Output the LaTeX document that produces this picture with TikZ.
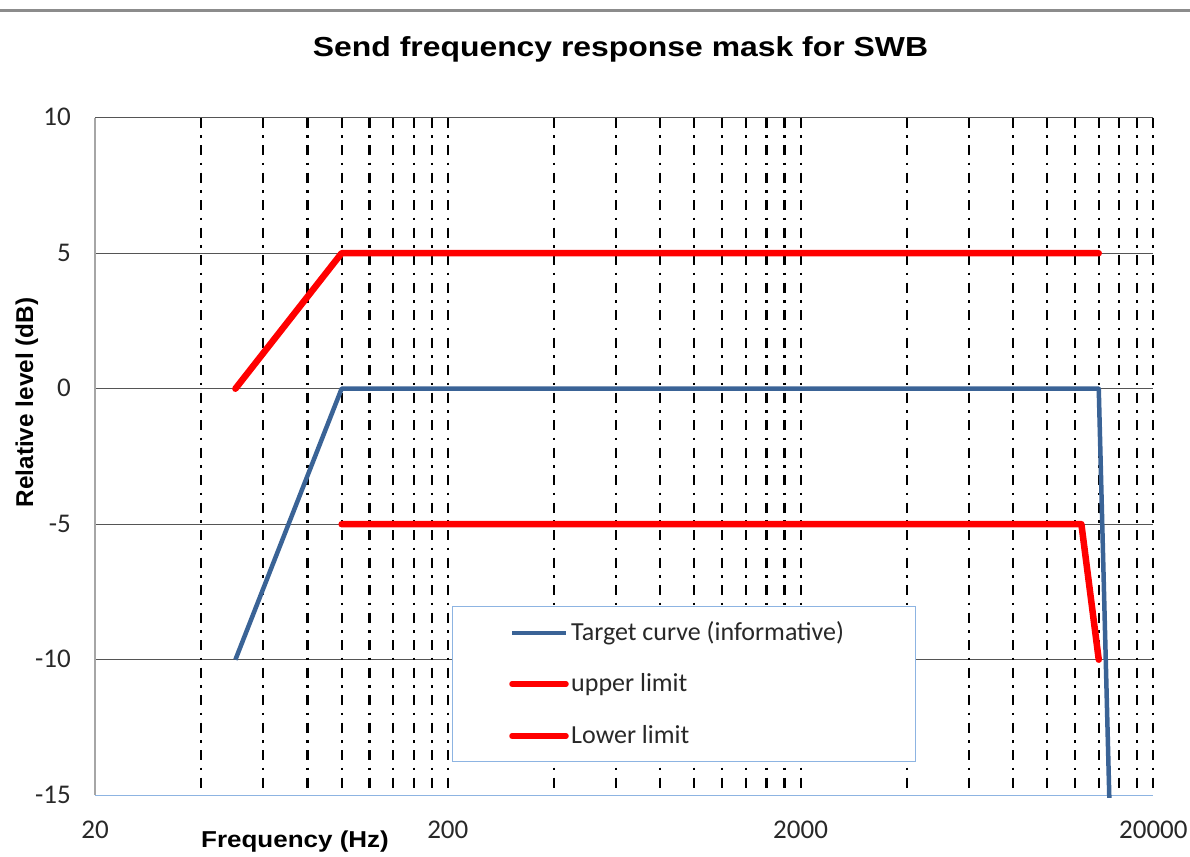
\documentclass[tikz,border=0pt]{standalone}
\usepackage{fontspec}
\setmainfont{Carlito}
\newfontfamily\titlefont[FakeStretch=1.16]{Liberation Sans}
\newfontfamily\xlabelfont[FakeStretch=1.13]{Liberation Sans}
\newfontfamily\ylabelfont{Liberation Sans}
\definecolor{gridgray}{RGB}{85,85,85}
\definecolor{axisgray}{RGB}{166,166,166}
\definecolor{axisblue}{RGB}{141,180,226}
\definecolor{rulegray}{RGB}{140,140,140}
\definecolor{textgray}{RGB}{40,40,40}
\definecolor{targetblue}{RGB}{58,99,150}
\definecolor{limitred}{RGB}{255,0,0}
\tikzset{
    grid major/.style={draw=gridgray, line width=1.3pt},
    grid minor/.style={draw=black, line width=2.2pt, dash pattern=on 10pt off 7.5pt on 2.5pt off 7.5pt},
    target/.style={draw=targetblue, line width=4.5pt, line join=round},
    limit/.style={draw=limitred, line width=6.5pt, line cap=round, line join=round},
    ticklabel/.style={font=\fontsize{27}{29}\selectfont, text=textgray, inner sep=0pt},
    legendtext/.style={font=\fontsize{26}{28}\selectfont, text=textgray, inner sep=0pt, anchor=base west},
}

\begin{document}
\begin{tikzpicture}[x=1pt, y=-1pt,
    declare function={fx(\k)=95+352.8*log10(\k/0.02); ly(\v)=388.7-27.1*\v;}]
	\useasboundingbox (0,0) rectangle (1190,856);
	\draw[rulegray, line width=3pt] (0,11) -- (1190,11);
	\node[font=\titlefont\bfseries\fontsize{27.5}{30}\selectfont, anchor=base] (title) at (620.5,57) {Send frequency response mask for SWB};
	\foreach \v in {10,5,0,-5,-10}
		\draw[grid major] (95,{ly(\v)}) -- (1153.4,{ly(\v)});
	\foreach \d in {0.02,0.2,2}
		\foreach \m in {2,...,10}
			\draw[grid minor] ({fx(\m*\d)},{ly(10)}) -- ({fx(\m*\d)},{ly(-15)});
	\draw[axisgray, line width=1.3pt] (95,{ly(10)}) -- (95,{ly(-15)});
	\draw[axisblue, line width=1.3pt] (95,{ly(-15)}) -- (1153.4,{ly(-15)});
	\foreach \v in {10,5,0,-5,-10,-15}
		\node[ticklabel, anchor=base east] (ytick\v) at (71,{ly(\v)+8}) {\v};
	\node[ticklabel, anchor=base] (xtick20) at ({fx(0.02)},838) {20};
	\node[ticklabel, anchor=base] (xtick200) at ({fx(0.2)},838) {200};
	\node[ticklabel, anchor=base] (xtick2000) at ({fx(2)},838) {2000};
	\node[ticklabel, anchor=base] (xtick20000) at ({fx(20)},838) {20000};
	\node[font=\xlabelfont\bfseries\fontsize{23}{26}\selectfont, anchor=base, inner sep=0pt] (xlabel) at (295,847) {Frequency (Hz)};
	\node[font=\ylabelfont\bfseries\fontsize{24.3}{26}\selectfont, rotate=90, anchor=base, inner sep=0pt] (ylabel) at (33,402.5) {Relative level (dB)};
	\draw[target] ({fx(0.05)},{ly(-10)}) -- ({fx(0.1)},{ly(0)}) -- ({fx(14)},{ly(0)}) -- ({fx(15)},{ly(-15.1)});
	\draw[limit] ({fx(0.05)},{ly(0)}) -- ({fx(0.1)},{ly(5)}) -- ({fx(14)},{ly(5)});
	\draw[limit] ({fx(0.1)},{ly(-5)}) -- ({fx(12.5)},{ly(-5)}) -- ({fx(14)},{ly(-10)});
	\node[draw=axisblue, fill=white, line width=1.2pt, minimum width=463pt, minimum height=155pt, anchor=north west, inner sep=0pt] (legend) at (452,606) {};
	\draw[target] (512,633) -- (566,633);
	\node[legendtext] (legtarget) at (571,640) {Target curve (informative)};
	\draw[limit, line width=5.5pt] (512,684) -- (566,684);
	\node[legendtext] (legupper) at (571,691) {upper limit};
	\draw[limit, line width=5.5pt] (512,736) -- (566,736);
	\node[legendtext] (leglower) at (571,743) {Lower limit};
\end{tikzpicture}
\end{document}
